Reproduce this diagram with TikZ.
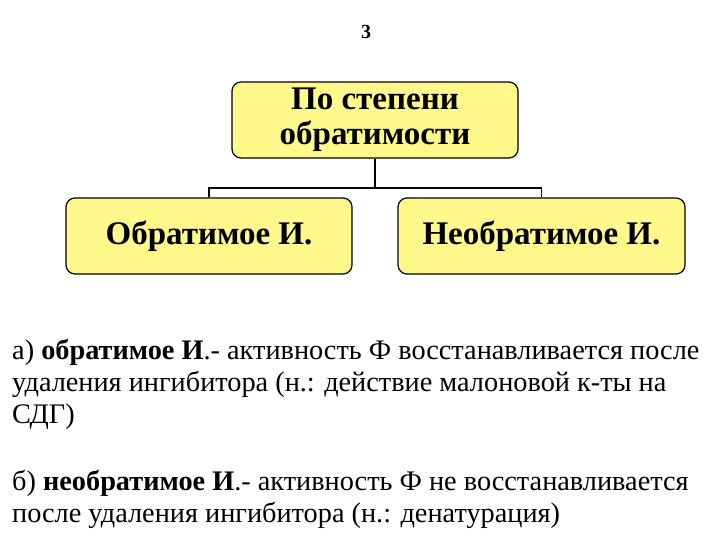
\documentclass[tikz,border=0pt]{standalone}
\usepackage{fontspec}
\setmainfont{Liberation Serif}
\begin{document}
\begin{tikzpicture}[x=1pt,y=-1pt,
 box/.style={draw=black,line width=1.2pt,fill=yellow!45,rounded corners=9pt,font=\bfseries\fontsize{33}{35}\selectfont,align=center,inner sep=0pt},
 conn/.style={line width=1.5pt},
 para/.style={anchor=north west,align=left,font=\fontsize{28.3}{32}\selectfont,inner sep=0pt}]
\useasboundingbox (0,0) rectangle (720,540);
\node[font=\bfseries\fontsize{20}{22}\selectfont] (num) at (366,32) {3};
\node[box,minimum width=286pt,minimum height=76pt] (top) at (375,120) {По степени\\обратимости};
\node[box,minimum width=286pt,minimum height=76pt] (l) at (209,236) {Обратимое И.};
\node[box,minimum width=287pt,minimum height=76pt] (r) at (541.5,236) {Необратимое И.};
\coordinate (j) at (375,188);
\draw[conn] (top.south) -- (j);
\draw[conn] (l.north) -- (209,188) -- (541.5,188) -- (r.north);
\node[para] (a) at (12,339) {а) \textbf{обратимое И}.- активность Ф восстанавливается после\\удаления ингибитора (н.: действие малоновой к-ты на\\СДГ)};
\node[para] (b) at (12,470) {б) \textbf{необратимое И}.- активность Ф не восстанавливается\\после удаления ингибитора (н.: денатурация)};
\end{tikzpicture}
\end{document}
